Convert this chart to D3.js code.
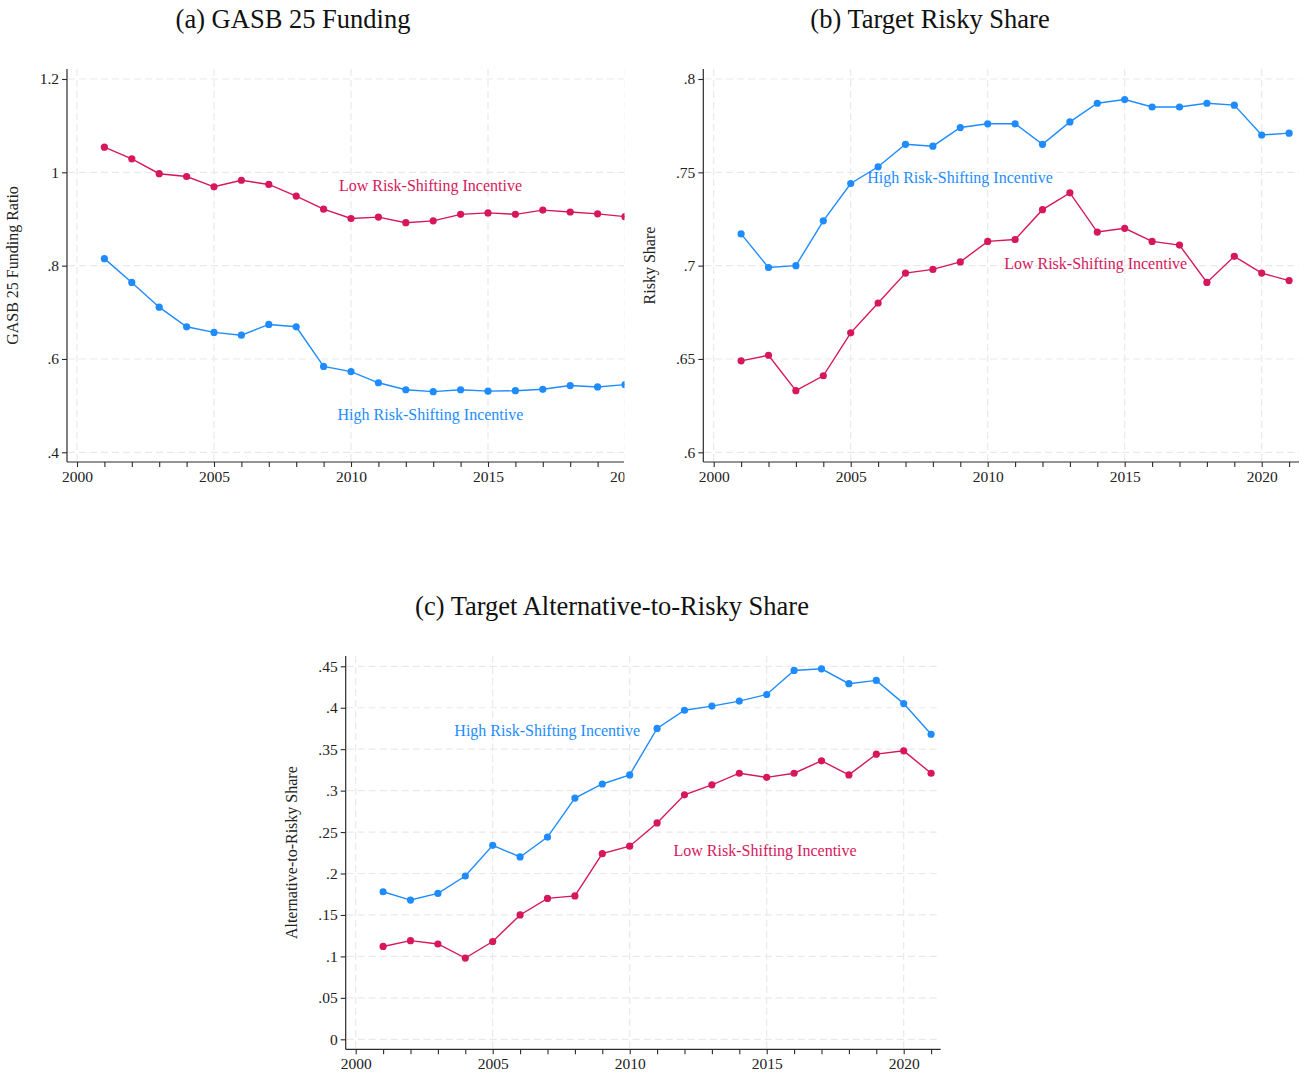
<!DOCTYPE html>
<html>
<head>
<meta charset="utf-8">
<script src="https://cdn.jsdelivr.net/npm/d3@7"></script>
<style>
  html, body { margin: 0; padding: 0; background: #fff; }
  svg { display: block; font-family: "Liberation Serif", "Times New Roman", serif; }
  svg text { font-family: "Liberation Serif", "Times New Roman", serif; }
</style>
</head>
<body>
<svg id="chart" width="1306" height="1075"></svg>
<script>
// Years covered by the series
const years = d3.range(2001, 2022);

// (a) GASB 25 funding ratio
const fundingLow  = [1.054, 1.029, 0.997, 0.991, 0.969, 0.983, 0.974, 0.949, 0.921, 0.901,
                     0.904, 0.892, 0.896, 0.910, 0.913, 0.910, 0.919, 0.915, 0.911, 0.905];
const fundingHigh = [0.815, 0.764, 0.711, 0.669, 0.657, 0.651, 0.674, 0.669, 0.584, 0.573,
                     0.549, 0.534, 0.530, 0.534, 0.531, 0.532, 0.535, 0.543, 0.540, 0.545];

// (b) target risky share
const riskyLow  = [0.649, 0.652, 0.633, 0.641, 0.664, 0.680, 0.696, 0.698, 0.702, 0.713,
                   0.714, 0.730, 0.739, 0.718, 0.720, 0.713, 0.711, 0.691, 0.705, 0.696, 0.692];
const riskyHigh = [0.717, 0.699, 0.700, 0.724, 0.744, 0.753, 0.765, 0.764, 0.774, 0.776,
                   0.776, 0.765, 0.777, 0.787, 0.789, 0.785, 0.785, 0.787, 0.786, 0.770, 0.771];

// (c) target alternative-to-risky share
const altLow  = [0.112, 0.119, 0.115, 0.098, 0.118, 0.150, 0.170, 0.173, 0.224, 0.233,
                 0.261, 0.295, 0.307, 0.321, 0.316, 0.321, 0.336, 0.319, 0.344, 0.348, 0.321];
const altHigh = [0.178, 0.168, 0.176, 0.197, 0.234, 0.220, 0.244, 0.291, 0.308, 0.319,
                 0.375, 0.397, 0.402, 0.408, 0.416, 0.445, 0.447, 0.429, 0.433, 0.405, 0.368];

// Axis ticks and their labels
const xTicks = [2000, 2005, 2010, 2015, 2020];
const fundingTicks = [0.4, 0.6, 0.8, 1.0, 1.2];
const fundingTickLabels = [".4", ".6", ".8", "1", "1.2"];
const riskyTicks = [0.6, 0.65, 0.7, 0.75, 0.8];
const riskyTickLabels = [".6", ".65", ".7", ".75", ".8"];
const altTicks = [0, 0.05, 0.1, 0.15, 0.2, 0.25, 0.3, 0.35, 0.4, 0.45];
const altTickLabels = ["0", ".05", ".1", ".15", ".2", ".25", ".3", ".35", ".4", ".45"];

const lowLabel = "Low Risk-Shifting Incentive";
const highLabel = "High Risk-Shifting Incentive";

const RED = "#d6175c";
const BLUE = "#1e8cff";
const AXIS = "#2b2b2b";
const GRID = "#e9e9e9";
const SERIF = "'Liberation Serif', 'Times New Roman', serif";

const svg = d3.select("#chart");

function panel(cfg) {
  const g = svg.append("g");
  if (cfg.clipRight) {
    const id = "clip-" + cfg.id;
    svg.append("defs").append("clipPath").attr("id", id)
      .append("rect").attr("x", 0).attr("y", 0)
      .attr("width", cfg.clipRight).attr("height", 1075);
    g.attr("clip-path", `url(#${id})`);
  }

  const x = d3.scaleLinear().domain([2000, 2020]).range([cfg.x2000, cfg.x2000 + 20 * 27.4]);
  const y = d3.scaleLinear().domain(cfg.yDomain).range(cfg.yRange);

  // title
  svg.append("text")
    .attr("x", cfg.titleX).attr("y", cfg.titleY)
    .attr("text-anchor", "middle")
    .attr("font-size", 26.5)
    .attr("fill", "#111")
    .text(cfg.title);

  // grid
  g.append("g").selectAll("line").data(cfg.yTicks).join("line")
    .attr("x1", cfg.axisX + 1).attr("x2", cfg.axisRight)
    .attr("y1", d => y(d)).attr("y2", d => y(d))
    .attr("stroke", GRID).attr("stroke-width", 1.2).attr("stroke-dasharray", "7,4");
  g.append("g").selectAll("line").data(xTicks).join("line")
    .attr("x1", d => x(d)).attr("x2", d => x(d))
    .attr("y1", cfg.axisTop).attr("y2", cfg.axisBottom - 1)
    .attr("stroke", GRID).attr("stroke-width", 1.2).attr("stroke-dasharray", "7,4");

  // y axis
  const yAxis = d3.axisLeft(y)
    .tickValues(cfg.yTicks)
    .tickFormat((d, i) => cfg.yTickLabels[i])
    .tickSize(5).tickPadding(3);
  const ya = g.append("g").attr("transform", `translate(${cfg.axisX},0)`).call(yAxis);
  ya.select(".domain").attr("d", `M0,${cfg.axisTop}V${cfg.axisBottom}`);

  // x axis: labels every 5 years, ticks every year
  const xAxis = d3.axisBottom(x)
    .tickValues(d3.range(2000, 2022))
    .tickFormat(d => xTicks.includes(d) ? d : "")
    .tickSize(5).tickPadding(4);
  const xa = g.append("g").attr("transform", `translate(0,${cfg.axisBottom})`).call(xAxis);
  xa.select(".domain").attr("d", `M${cfg.axisX},0H${cfg.axisRight}`);

  [ya, xa].forEach(a => {
    a.attr("font-family", SERIF);
    a.select(".domain").attr("stroke", AXIS).attr("stroke-width", 1.2);
    a.selectAll(".tick line").attr("stroke", AXIS).attr("stroke-width", 1.1);
    a.selectAll(".tick text")
      .attr("font-family", SERIF)
      .attr("font-size", 15.5).attr("fill", "#222");
  });

  // y axis title
  svg.append("text")
    .attr("transform", `translate(${cfg.yTitleX},${(cfg.axisTop + cfg.axisBottom) / 2}) rotate(-90)`)
    .attr("text-anchor", "middle")
    .attr("dominant-baseline", "middle")
    .attr("font-size", 16)
    .attr("fill", "#222")
    .text(cfg.yTitle);

  // series
  const line = d3.line().x((d, i) => x(years[i])).y(d => y(d));
  [[cfg.high, BLUE], [cfg.low, RED]].forEach(([vals, col]) => {
    g.append("path").datum(vals)
      .attr("d", line).attr("fill", "none")
      .attr("stroke", col).attr("stroke-width", 1.4);
    g.append("g").selectAll("circle").data(vals).join("circle")
      .attr("cx", (d, i) => x(years[i])).attr("cy", d => y(d))
      .attr("r", 3.6).attr("fill", col);
  });

  // series labels
  cfg.labels.forEach(l => {
    g.append("text")
      .attr("x", x(l.year)).attr("y", y(l.value))
      .attr("text-anchor", l.anchor)
      .attr("dominant-baseline", "middle")
      .attr("font-size", 16)
      .attr("fill", l.color)
      .text(l.text);
  });
}

panel({
  id: "a", title: "(a) GASB 25 Funding", titleX: 293, titleY: 28,
  x2000: 77, axisX: 67, axisRight: 624, axisTop: 69, axisBottom: 462,
  yDomain: [0.4, 1.2], yRange: [452.3, 79],
  yTicks: fundingTicks, yTickLabels: fundingTickLabels,
  yTitle: "GASB 25 Funding Ratio", yTitleX: 14,
  low: fundingLow, high: fundingHigh,
  clipRight: 624.5,
  labels: [
    { text: lowLabel, year: 2012.9, value: 0.968, anchor: "middle", color: RED },
    { text: highLabel, year: 2012.9, value: 0.477, anchor: "middle", color: BLUE }
  ]
});

panel({
  id: "b", title: "(b) Target Risky Share", titleX: 930, titleY: 28,
  x2000: 713.7, axisX: 703.3, axisRight: 1299, axisTop: 69, axisBottom: 462,
  yDomain: [0.6, 0.8], yRange: [452.3, 79],
  yTicks: riskyTicks, yTickLabels: riskyTickLabels,
  yTitle: "Risky Share", yTitleX: 651,
  low: riskyLow, high: riskyHigh,
  labels: [
    { text: highLabel, year: 2005.6, value: 0.7465, anchor: "start", color: BLUE },
    { text: lowLabel, year: 2010.6, value: 0.7, anchor: "start", color: RED }
  ]
});

panel({
  id: "c", title: "(c) Target Alternative-to-Risky Share", titleX: 612, titleY: 615,
  x2000: 355.7, axisX: 345.7, axisRight: 940.7, axisTop: 656, axisBottom: 1049.3,
  yDomain: [0, 0.45], yRange: [1039.3, 666.3],
  yTicks: altTicks, yTickLabels: altTickLabels,
  yTitle: "Alternative-to-Risky Share", yTitleX: 293,
  low: altLow, high: altHigh,
  labels: [
    { text: highLabel, year: 2003.6, value: 0.370, anchor: "start", color: BLUE },
    { text: lowLabel, year: 2011.6, value: 0.225, anchor: "start", color: RED }
  ]
});
</script>
</body>
</html>
